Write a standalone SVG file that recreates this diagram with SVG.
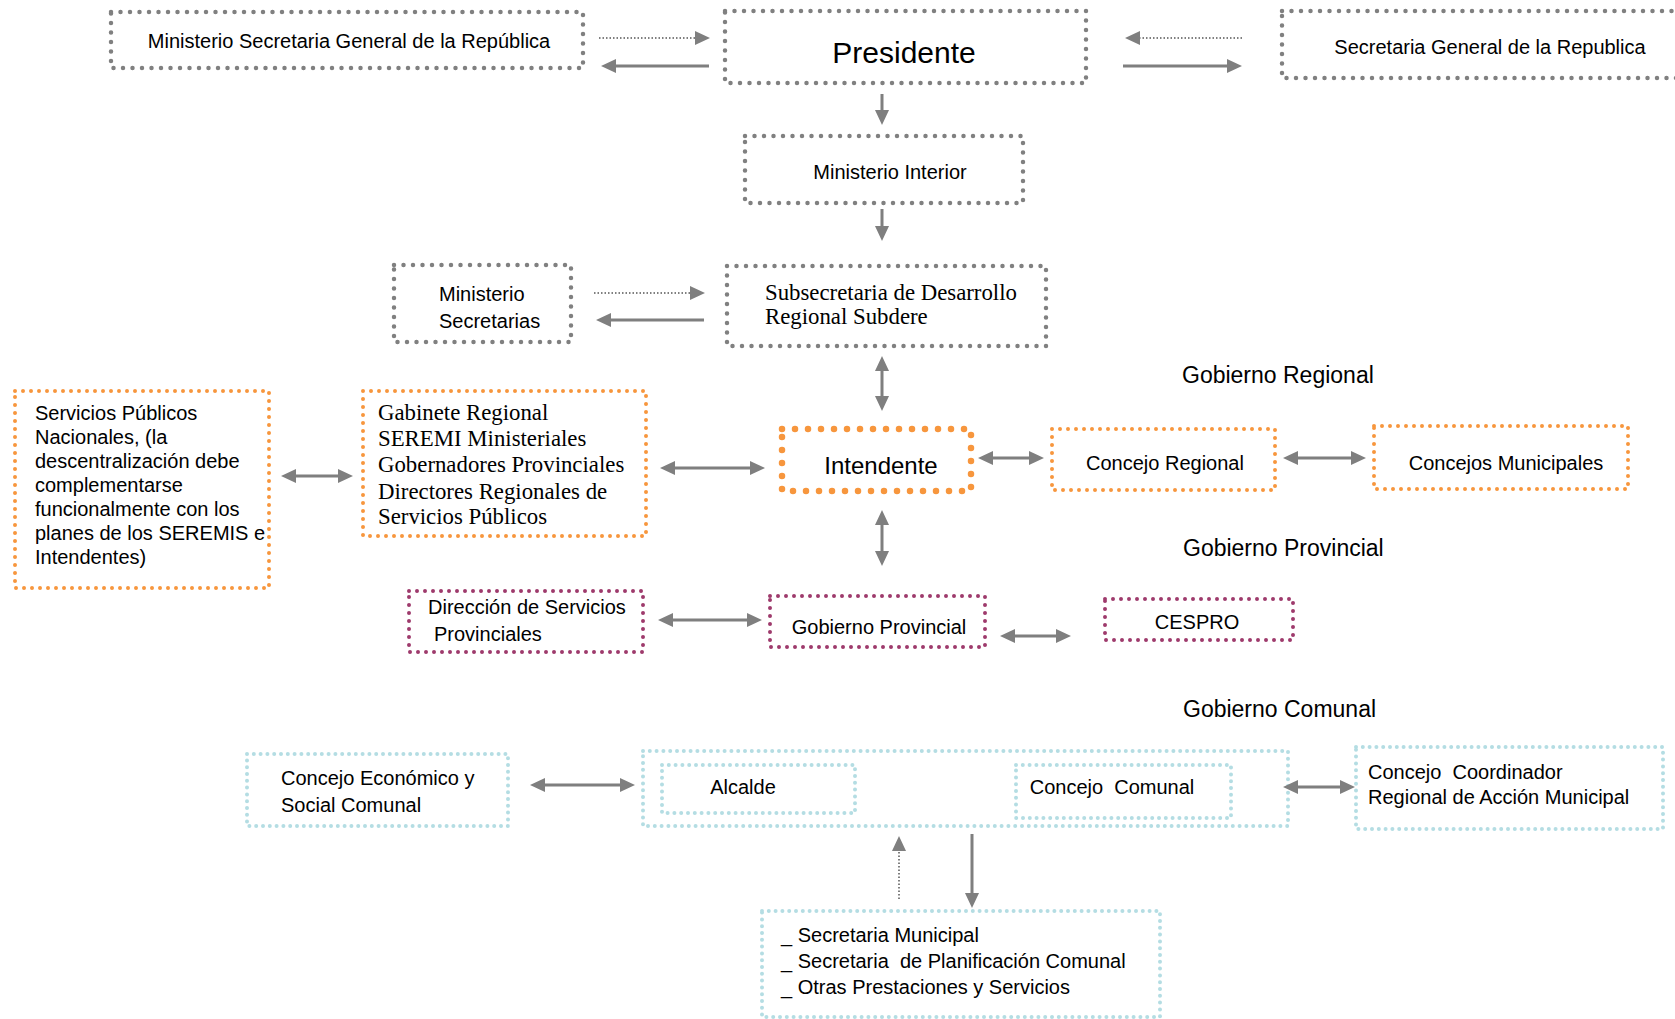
<svg xmlns="http://www.w3.org/2000/svg" width="1675" height="1019" viewBox="0 0 1675 1019">
<style>
text{font-family:"Liberation Sans",Arial,sans-serif;font-size:20px;fill:#000}
.serif{font-family:"Liberation Serif","Times New Roman",serif;font-size:22.8px}
.c{text-anchor:middle}
.gray{fill:none;stroke:#808080;stroke-width:4.5;stroke-dasharray:0 9.5;stroke-linecap:round}
.orange{fill:none;stroke:#f7963d;stroke-width:4;stroke-dasharray:0 8;stroke-linecap:round}
.orangeB{fill:none;stroke:#f7963d;stroke-width:6.5;stroke-dasharray:0 13;stroke-linecap:round}
.plum{fill:none;stroke:#9e3a6c;stroke-width:4;stroke-dasharray:0 8;stroke-linecap:round}
.teal{fill:none;stroke:#b4dde3;stroke-width:4;stroke-dasharray:0 6.8;stroke-linecap:round}
.arr{fill:none;stroke:#7f7f7f;stroke-width:3;marker-end:url(#ah)}
.dbl{fill:none;stroke:#7f7f7f;stroke-width:3;marker-start:url(#ah);marker-end:url(#ah)}
.dot{fill:none;stroke:#7f7f7f;stroke-width:2;stroke-dasharray:1.5 2;marker-end:url(#ah)}
.lbl{font-size:23px}
</style>
<defs>
<marker id="ah" markerUnits="userSpaceOnUse" markerWidth="15" markerHeight="14" refX="3" refY="7" orient="auto-start-reverse">
<path d="M0,0 L15,7 L0,14 z" fill="#7f7f7f"/>
</marker>
</defs>

<g id="n-msgr"><rect class="gray" x="111" y="12" width="472" height="56"/><text class="c" x="349" y="48">Ministerio Secretaria General de la República</text></g>
<g id="n-presidente"><rect class="gray" x="725" y="11" width="361" height="72"/><text class="c" x="904" y="63" style="font-size:30px">Presidente</text></g>
<g id="n-sgr"><rect class="gray" x="1282" y="11" width="420" height="67"/><text class="c" x="1490" y="54">Secretaria General de la Republica</text></g>
<g id="n-interior"><rect class="gray" x="745" y="136" width="278" height="67"/><text class="c" x="890" y="179">Ministerio Interior</text></g>
<g id="n-subdere"><rect class="gray" x="727" y="266" width="319" height="80"/><text class="serif" x="765" y="300">Subsecretaria de Desarrollo</text><text class="serif" x="765" y="324">Regional Subdere</text></g>
<g id="n-minsec"><rect class="gray" x="394" y="265" width="177" height="77"/><text x="439" y="301">Ministerio</text><text x="439" y="328">Secretarias</text></g>

<g id="n-servicios"><rect class="orange" x="15" y="391" width="254" height="197"/>
<text x="35" y="420">Servicios Públicos</text><text x="35" y="444">Nacionales, (la</text><text x="35" y="468">descentralización debe</text><text x="35" y="492">complementarse</text><text x="35" y="516">funcionalmente con los</text><text x="35" y="540">planes de los SEREMIS e</text><text x="35" y="564">Intendentes)</text></g>
<g id="n-gabinete"><rect class="orange" x="363" y="391" width="283" height="145"/>
<text class="serif" x="378" y="420">Gabinete Regional</text><text class="serif" x="378" y="446">SEREMI Ministeriales</text><text class="serif" x="378" y="472">Gobernadores Provinciales</text><text class="serif" x="378" y="499">Directores Regionales de</text><text class="serif" x="378" y="524">Servicios Públicos</text></g>
<g id="n-intendente"><rect class="orangeB" x="782" y="429" width="189" height="62"/><text class="c" x="881" y="474" style="font-size:24px">Intendente</text></g>
<g id="n-cregional"><rect class="orange" x="1052" y="429" width="223" height="61"/><text class="c" x="1165" y="470">Concejo Regional</text></g>
<g id="n-cmunicipales"><rect class="orange" x="1374" y="426" width="254" height="63"/><text class="c" x="1506" y="470">Concejos Municipales</text></g>

<g id="l-regional"><text class="lbl" x="1182" y="383">Gobierno Regional</text></g>
<g id="l-provincial"><text class="lbl" x="1183" y="556">Gobierno Provincial</text></g>
<g id="l-comunal"><text class="lbl" x="1183" y="717">Gobierno Comunal</text></g>

<g id="n-direccion"><rect class="plum" x="409" y="591" width="234" height="61"/><text x="428" y="614">Dirección de Servicios</text><text x="434" y="641">Provinciales</text></g>
<g id="n-gobprov"><rect class="plum" x="770" y="596" width="215" height="51"/><text class="c" x="879" y="634">Gobierno Provincial</text></g>
<g id="n-cespro"><rect class="plum" x="1105" y="599" width="188" height="41"/><text class="c" x="1197" y="629">CESPRO</text></g>

<g id="n-cesc"><rect class="teal" x="247" y="754" width="261" height="72"/><text x="281" y="785">Concejo Económico y</text><text x="281" y="812">Social Comunal</text></g>
<g id="n-municipio"><rect class="teal" x="643" y="751" width="645" height="75"/></g>
<g id="n-alcalde"><rect class="teal" x="662" y="765" width="193" height="48"/><text class="c" x="743" y="794">Alcalde</text></g>
<g id="n-ccomunal"><rect class="teal" x="1016" y="765" width="215" height="53"/><text class="c" x="1112" y="794" xml:space="preserve">Concejo  Comunal</text></g>
<g id="n-ccram"><rect class="teal" x="1356" y="747" width="307" height="82"/><text x="1368" y="779" xml:space="preserve">Concejo  Coordinador</text><text x="1368" y="804">Regional de Acción Municipal</text></g>
<g id="n-secretarias"><rect class="teal" x="762" y="911" width="398" height="106"/><text x="781" y="942">_ Secretaria Municipal</text><text x="781" y="968" xml:space="preserve">_ Secretaria  de Planificación Comunal</text><text x="781" y="994">_ Otras Prestaciones y Servicios</text></g>

<g id="connectors">
<path class="dot" d="M599,38 H698"/>
<path class="arr" d="M709,66 H613"/>
<path class="dot" d="M1242,38 H1137"/>
<path class="arr" d="M1123,66 H1230"/>
<path class="arr" d="M882,94 V113"/>
<path class="arr" d="M882,209 V229"/>
<path class="dot" d="M594,293 H693"/>
<path class="arr" d="M704,320 H608"/>
<path class="dbl" d="M882,368 V399"/>
<path class="dbl" d="M293,476 H341"/>
<path class="dbl" d="M672,468 H753"/>
<path class="dbl" d="M990,458 H1032"/>
<path class="dbl" d="M1295,458 H1354"/>
<path class="dbl" d="M882,522 V554"/>
<path class="dbl" d="M670,620 H750"/>
<path class="dbl" d="M1012,636 H1059"/>
<path class="dbl" d="M542,785 H623"/>
<path class="dbl" d="M1295,787 H1343"/>
<path class="dot" d="M899,899 V848"/>
<path class="arr" d="M972,834 V896"/>
</g>
</svg>
